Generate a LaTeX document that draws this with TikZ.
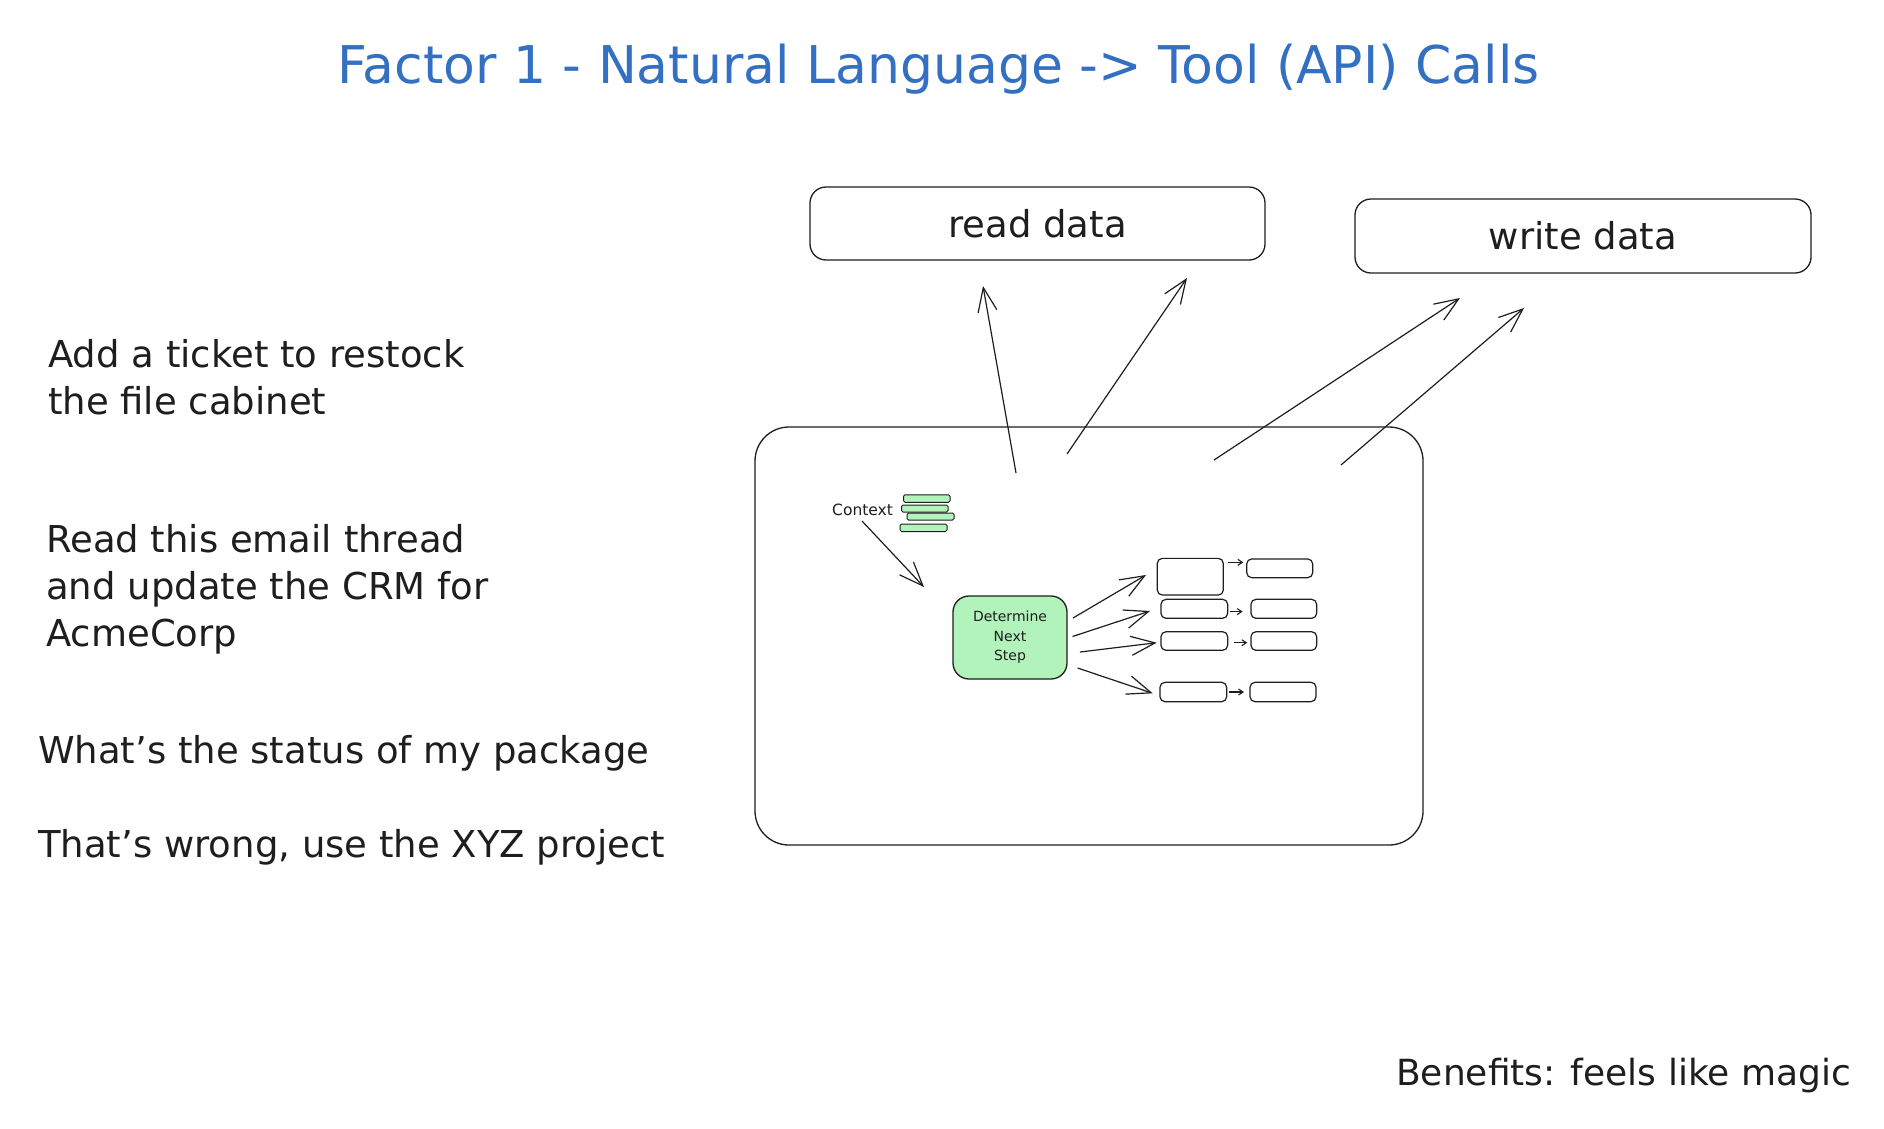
\documentclass[tikz,border=0pt]{standalone}
\usepackage{fontspec}
\setmainfont{DejaVu Sans}
\usetikzlibrary{arrows.meta}
\definecolor{ink}{HTML}{1E1E1E}
\definecolor{titleblue}{HTML}{3370C2}
\definecolor{ctxgreen}{HTML}{B2F2BB}
\begin{document}
\begin{tikzpicture}[x=1pt,y=-1pt,
  rbox/.style={draw=ink, line width=1.3pt, rectangle, inner sep=0pt, outer sep=0pt},
  bigarrow/.style={draw=ink, line width=1.2pt, -{Straight Barb[length=24pt,width=19pt]}},
  smallarrow/.style={draw=ink, line width=1.1pt, -{Straight Barb[length=4.5pt,width=6pt]}},
  bodytext/.style={font=\fontsize{37}{47}\selectfont, text=ink, inner sep=0pt, align=left},
  bar/.style={rbox, fill=ctxgreen, line width=1pt, rounded corners=1.5pt},
  sbox/.style={rbox, line width=1.2pt, rounded corners=5pt}
]
\useasboundingbox (0,0) rectangle (1884,1128);
\fill[white] (0,0) rectangle (1884,1128);

% title
\node[font=\fontsize{52}{60}\selectfont, text=titleblue, anchor=base, inner sep=0pt] (title) at (938.5,83) {Factor 1 - Natural Language -> Tool (API) Calls};

% tool boxes
\node[rbox, rounded corners=16pt, minimum width=455pt, minimum height=73pt] (read) at (1037.5,223.5) {};
\node[font=\fontsize{37}{44}\selectfont, text=ink, inner sep=0pt] (readlbl) at (read.center) {read data};
\node[rbox, rounded corners=16pt, minimum width=456pt, minimum height=74pt] (write) at (1583,236) {};
\node[font=\fontsize{37}{44}\selectfont, text=ink, inner sep=0pt] (writelbl) at (write.center) {write data};

% main agent box
\node[rbox, rounded corners=34pt, minimum width=668pt, minimum height=418pt] (main) at (1089,636) {};

% left texts (anchor = baseline of the last line)
\node[bodytext, anchor=base west] (t1) at (48,414) {Add a ticket to restock\\the file cabinet};
\node[bodytext, anchor=base west] (t2) at (46,646) {Read this email thread\\and update the CRM for\\AcmeCorp};
\node[bodytext, anchor=base west] (t3) at (38,763) {What's the status of my package};
\node[bodytext, anchor=base west] (t4) at (38,857) {That's wrong, use the XYZ project};
\node[bodytext, font=\fontsize{36}{44}\selectfont, anchor=base west] (t5) at (1396,1085) {Benefits: feels like magic};

% context
\node[font=\fontsize{15.5}{18}\selectfont, text=ink, inner sep=0pt, anchor=base west] (ctx) at (832,515) {Context};
\node[bar, minimum width=46.5pt, minimum height=7.5pt] (bar1) at (926.75,498.5) {};
\node[bar, minimum width=46.5pt, minimum height=7pt] (bar2) at (924.75,508.5) {};
\node[bar, minimum width=47pt, minimum height=7pt] (bar3) at (930.5,516.5) {};
\node[bar, minimum width=47pt, minimum height=7.5pt] (bar4) at (923.5,527.75) {};

% determine next step
\node[rbox, fill=ctxgreen, rounded corners=16pt, minimum width=114pt, minimum height=83pt] (det) at (1010,637.5) {};
\node[font=\fontsize{14}{19.5}\selectfont, text=ink, inner sep=0pt, align=center] (detlbl) at (det.center) {Determine\\Next\\Step};

% small step boxes
\node[sbox, minimum width=66pt, minimum height=36.7pt] (a1) at (1190.3,576.7) {};
\node[sbox, minimum width=66.7pt, minimum height=19pt] (a2) at (1194.3,608.8) {};
\node[sbox, minimum width=66.7pt, minimum height=18.6pt] (a3) at (1194.3,641) {};
\node[sbox, minimum width=66.7pt, minimum height=19.4pt] (a4) at (1193.3,692) {};
\node[sbox, minimum width=66pt, minimum height=18.7pt] (b1) at (1279.7,568.3) {};
\node[sbox, minimum width=65.7pt, minimum height=19pt] (b2) at (1283.8,608.8) {};
\node[sbox, minimum width=65.7pt, minimum height=18.6pt] (b3) at (1283.8,641) {};
\node[sbox, minimum width=66pt, minimum height=19.4pt] (b4) at (1283,692) {};

% connector end points
\coordinate (r1s) at (1016,473); \coordinate (r1e) at (983,286);
\coordinate (r2s) at (1067,454); \coordinate (r2e) at (1187,278);
\coordinate (w1s) at (1214,460); \coordinate (w1e) at (1460,298);
\coordinate (w2s) at (1341,465); \coordinate (w2e) at (1524,308);
\coordinate (cs) at (862,521); \coordinate (ce) at (924,587);
\coordinate (d1s) at (1073,618); \coordinate (d1e) at (1146,575);
\coordinate (d2s) at (1072.5,636.5); \coordinate (d2e) at (1150,611);
\coordinate (d3s) at (1080,652); \coordinate (d3e) at (1156.7,642.7);
\coordinate (d4s) at (1077.6,668); \coordinate (d4e) at (1152.7,693.3);
\coordinate (s1s) at (1228.3,562.3); \coordinate (s1e) at (1243.3,562.3);

% arrows
\draw[bigarrow] (r1s) -- (r1e);
\draw[bigarrow] (r2s) -- (r2e);
\draw[bigarrow] (w1s) -- (w1e);
\draw[bigarrow] (w2s) -- (w2e);
\draw[bigarrow] (cs) -- (ce);
\draw[bigarrow] (d1s) -- (d1e);
\draw[bigarrow] (d2s) -- (d2e);
\draw[bigarrow] (d3s) -- (d3e);
\draw[bigarrow] (d4s) -- (d4e);
\draw[smallarrow] (s1s) -- (s1e);
\draw[smallarrow, shorten <=2.3pt, shorten >=8.3pt] ([yshift=-2.8pt]a2.east) -- ([yshift=-2.8pt]b2.west);
\draw[smallarrow, shorten <=6.3pt, shorten >=3.7pt] ([yshift=-1.7pt]a3.east) -- ([yshift=-1.7pt]b3.west);
\draw[smallarrow, shorten <=2.6pt, shorten >=6pt] (a4.east) -- (b4.west);
\end{tikzpicture}
\end{document}
